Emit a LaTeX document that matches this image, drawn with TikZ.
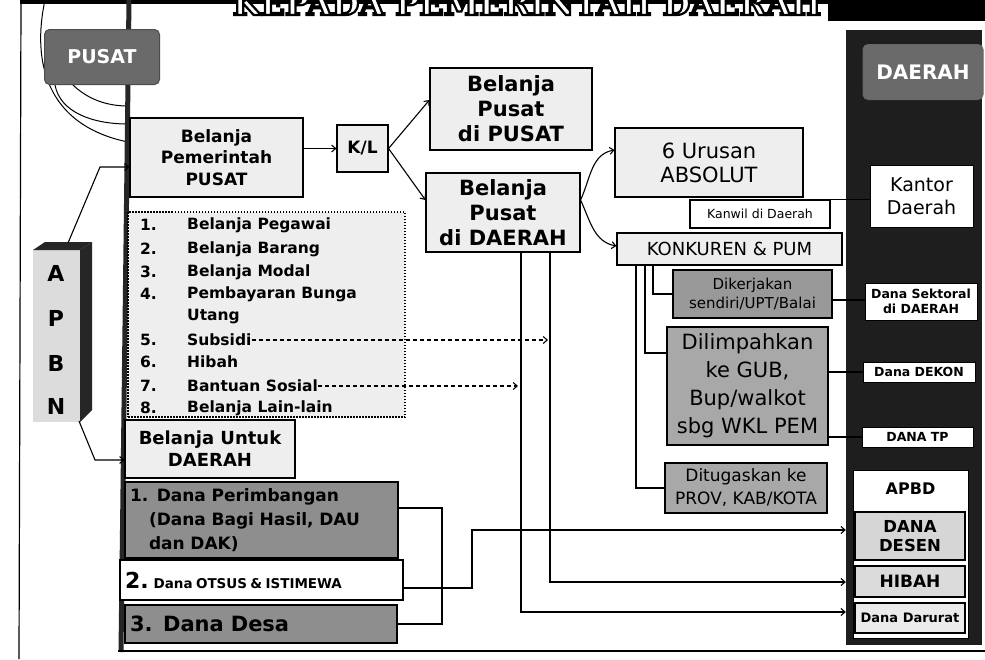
\documentclass[tikz,border=0pt]{standalone}
\usepackage{fontspec}
\setmainfont{DejaVu Sans}
\newfontfamily\titlefont{DejaVu Serif}
\usetikzlibrary{arrows.meta}
\definecolor{lightbox}{HTML}{EEEEEE}
\definecolor{darkbox}{HTML}{8E8E8E}
\definecolor{midbox}{HTML}{A8A8A8}
\definecolor{panelblack}{HTML}{1E1E1E}
\definecolor{labelgray}{HTML}{6A6A6A}
\definecolor{apbngray}{HTML}{DCDCDC}
\newcommand\fsz[2]{\fontsize{#1}{#2}\selectfont}
\newcommand\outlinetext[1]{\special{pdf:literal direct 0 G 2.2 w 2 Tr}#1\special{pdf:literal direct 0 Tr 0.4 w}}
\begin{document}
\begin{tikzpicture}[x=1pt,y=-1pt,
  bx/.style={draw=black,line width=1.1pt,fill=lightbox,inner sep=1pt,align=center},
  wbx/.style={draw=black,line width=1pt,fill=white,inner sep=1pt,align=center},
  conn/.style={draw=black,line width=1.1pt},
  arr/.style={conn,-{Straight Barb[length=4pt,width=7pt]}},
  dasharr/.style={arr,dash pattern=on 4pt off 3pt},
  item/.style={anchor=west,inner sep=0pt,font=\fsz{15.5}{18}\bfseries},
  apbnletter/.style={inner sep=0pt,font=\fsz{22}{22}\bfseries},
]
\useasboundingbox (0,0) rectangle (985,659);
\fill[white] (0,0) rectangle (985,659);
% frame and top band
\draw[line width=1.2pt] (21,2) -- (19,659);
\fill[black] (20,0) rectangle (985,4);
\fill[black] (828,0) rectangle (985,21);
\begin{scope}
\clip (0,0) rectangle (985,659);
\node[font=\titlefont\fsz{32}{32}\bfseries,text=white,anchor=base,inner sep=0pt] (title) at (527,15) {\outlinetext{KEPADA PEMERINTAH DAERAH}};
\end{scope}
% decorative arcs
\draw[line width=1pt] (45,0) .. controls (32,60) and (45,125) .. (128,142);
\draw[line width=1pt] (55,85) .. controls (60,112) and (92,124) .. (128,124);
\draw[line width=1pt] (72,84) .. controls (88,100) and (108,106) .. (128,106);
% thick bar
\draw[line width=5pt,black!85] (129,0) -- (121,652);
% PUSAT
\node[draw=black!70,line width=1pt,fill=labelgray,rounded corners=5pt,minimum width=115,minimum height=55,text=white,font=\fsz{19}{22}\bfseries] (pusat) at (102,57) {PUSAT};
% right panel
\node[fill=panelblack,minimum width=136,minimum height=615,inner sep=0pt] (panel) at (914,337.5) {};
\node[draw=black!60,line width=1pt,fill=labelgray,rounded corners=5pt,minimum width=120,minimum height=55,text=white,font=\fsz{20}{22}\bfseries] (daerahlbl) at (923,72) {DAERAH};
\node[wbx,minimum width=103,minimum height=62,font=\fsz{19}{23}] (kantor) at (921.5,196) {Kantor\\Daerah};
\node[wbx,minimum width=112,minimum height=37,font=\fsz{12.5}{15}\bfseries] (sektoral) at (921,301.5) {Dana Sektoral\\di DAERAH};
\node[wbx,minimum width=112,minimum height=20,font=\fsz{12.5}{15}\bfseries] (dekon) at (919,372) {Dana DEKON};
\node[wbx,minimum width=111,minimum height=20,font=\fsz{12.5}{15}\bfseries] (tp) at (917.5,437) {DANA TP};
\node[draw=black,line width=1pt,fill=white,minimum width=115,minimum height=168,inner sep=0pt] (apbdbox) at (910.5,554) {};
\node[inner sep=0pt,font=\fsz{16}{18}\bfseries] (apbd) at (910.5,489) {APBD};
\node[bx,fill=black!16,minimum width=110,minimum height=48,font=\fsz{16.5}{19}\bfseries] (desen) at (910,536) {DANA\\DESEN};
\node[bx,fill=black!14,minimum width=110,minimum height=31,font=\fsz{17}{19}\bfseries] (hibah) at (910,581.5) {HIBAH};
\node[bx,fill=black!8,minimum width=110,minimum height=30,font=\fsz{13}{15}\bfseries] (darurat) at (910,618) {Dana Darurat};
% APBN block
\node[fill=apbngray,minimum width=47,minimum height=172,inner sep=0pt] (apbn) at (56.5,336) {};
\fill[black!85] (33,250) -- (45,242) -- (92,242) -- (80,250) -- cycle;
\fill[black!85] (80,250) -- (92,242) -- (92,410) -- (80,422) -- cycle;
\node[apbnletter] (la) at (56,273) {A};
\node[apbnletter] (lp) at (56,318) {P};
\node[apbnletter] (lb) at (56,363) {B};
\node[apbnletter] (ln) at (56,406) {N};
\coordinate (apbnTop) at (68,243);
\coordinate (apbnBot) at (79,421);
% left column boxes
\node[bx,minimum width=173,minimum height=79,font=\fsz{17}{21.5}\bfseries] (bpp) at (216.5,157.5) {Belanja\\Pemerintah\\PUSAT};
\node[draw=black,line width=1.5pt,dash pattern=on 1.5pt off 1.5pt,fill=lightbox,minimum width=277,minimum height=205,inner sep=0pt] (list) at (266.5,314.5) {};
\node[item] (n1) at (140,225) {1.}; \node[item] (i1) at (187,225) {Belanja Pegawai};
\node[item] (n2) at (140,249) {2.}; \node[item] (i2) at (187,249) {Belanja Barang};
\node[item] (n3) at (140,272) {3.}; \node[item] (i3) at (187,272) {Belanja Modal};
\node[item] (n4) at (140,294) {4.}; \node[item] (i4) at (187,294) {Pembayaran Bunga};
\node[item] (i4b) at (187,317) {Utang};
\node[item] (n5) at (140,340) {5.}; \node[item] (i5) at (187,340) {Subsidi};
\node[item] (n6) at (140,362) {6.}; \node[item] (i6) at (187,362) {Hibah};
\node[item] (n7) at (140,386) {7.}; \node[item] (i7) at (187,386) {Bantuan Sosial};
\node[item] (n8) at (140,408) {8.}; \node[item] (i8) at (187,408) {Belanja Lain-lain};
\node[bx,minimum width=170,minimum height=58,font=\fsz{18}{22}\bfseries] (untuk) at (210,449) {Belanja Untuk\\DAERAH};
\node[bx,fill=darkbox,minimum width=273,minimum height=76,inner sep=5pt,text width=263,align=left,font=\fsz{17}{24}\bfseries] (perimbangan) at (261.5,520) {1. Dana Perimbangan\\\hspace*{19pt}(Dana Bagi Hasil, DAU\\\hspace*{19pt}dan DAK)};
\node[bx,fill=white,minimum width=283,minimum height=40,inner sep=5pt,text width=273,align=left,font=\bfseries] (otsus) at (261.5,580) {{\fsz{22}{24}2.} {\fsz{13.5}{16}Dana OTSUS \& ISTIMEWA}};
\node[bx,fill=darkbox,minimum width=272,minimum height=38,inner sep=5pt,text width=262,align=left,font=\fsz{21}{24}\bfseries] (desa) at (261,624) {3. Dana Desa};
% middle boxes
\node[bx,minimum width=51,minimum height=47,font=\fsz{17}{20}\bfseries] (kl) at (362.5,148.5) {K/L};
\node[bx,minimum width=162,minimum height=82,font=\fsz{21}{25}\bfseries] (bpPusat) at (511,109) {Belanja\\Pusat\\di PUSAT};
\node[bx,minimum width=154,minimum height=79,font=\fsz{21}{25}\bfseries] (bpDaerah) at (503,212.5) {Belanja\\Pusat\\di DAERAH};
\node[bx,minimum width=188,minimum height=69,font=\fsz{21}{24}] (absolut) at (709,162.5) {6 Urusan\\ABSOLUT};
\node[bx,fill=white,minimum width=140,minimum height=28,font=\fsz{12.5}{15}] (kanwil) at (760,214) {Kanwil di Daerah};
\node[bx,minimum width=225,minimum height=32,font=\fsz{18}{20}] (konkuren) at (729.5,249) {KONKUREN \& PUM};
\node[bx,fill=black!40,minimum width=159,minimum height=48,font=\fsz{15}{19}] (dikerjakan) at (752.5,294) {Dikerjakan\\sendiri/UPT/Balai};
\node[bx,fill=midbox,minimum width=161,minimum height=118,font=\fsz{21}{28}] (dilimpahkan) at (747.5,386) {Dilimpahkan\\ke GUB,\\Bup/walkot\\sbg WKL PEM};
\node[bx,fill=midbox,minimum width=162,minimum height=50,font=\fsz{17}{23}] (ditugaskan) at (746,488) {Ditugaskan ke\\PROV, KAB/KOTA};
% connectors
\draw[arr] (apbnTop) -- (100,167) -- (bpp.west |- 0,167);
\draw[arr] (apbnBot) -- (95,460) -- (untuk.west |- 0,460);
\draw[arr] (bpp.east |- kl) -- (kl.west);
\draw[arr] (kl.east) -- (bpPusat.west |- 0,100);
\draw[arr] (kl.east) -- (bpDaerah.west |- 0,200);
\draw[arr] (bpDaerah.east |- 0,200) to[out=65,in=190] (absolut.west |- 0,150);
\draw[arr] (bpDaerah.east |- 0,200) to[out=-65,in=170] (konkuren.west |- 0,246);
\draw[conn] (kanwil.north east) -- (kantor.west |- kanwil.north east);
\draw[conn] (konkuren.south -| 653,0) |- (dikerjakan.west);
\draw[conn] (konkuren.south -| 645,0) |- (dilimpahkan.west |- 0,353);
\draw[conn] (konkuren.south -| 636,0) |- (ditugaskan.west);
\draw[conn] (dikerjakan.east |- 0,300) -- (sektoral.west |- 0,300);
\draw[conn] (dilimpahkan.east |- dekon) -- (dekon.west);
\draw[conn] (dilimpahkan.east |- tp) -- (tp.west);
\draw[arr] (bpDaerah.south -| 521,0) |- (panel.west |- 0,612);
\draw[arr] (bpDaerah.south -| 550,0) |- (panel.west |- 0,582);
\draw[dasharr] (i5.east) -- (i5.east -| 548,0);
\draw[dasharr] (i7.east) -- (i7.east -| 518,0);
\draw[conn] (perimbangan.east |- 0,508) -- (442,508) -- (442,624) -- (desa.east);
\draw[arr] (otsus.east |- 0,588) -| (472,530) -- (panel.west |- 0,530);
% bottom line
\draw[line width=2.5pt] (118,651) -- (985,651);
\end{tikzpicture}
\end{document}
